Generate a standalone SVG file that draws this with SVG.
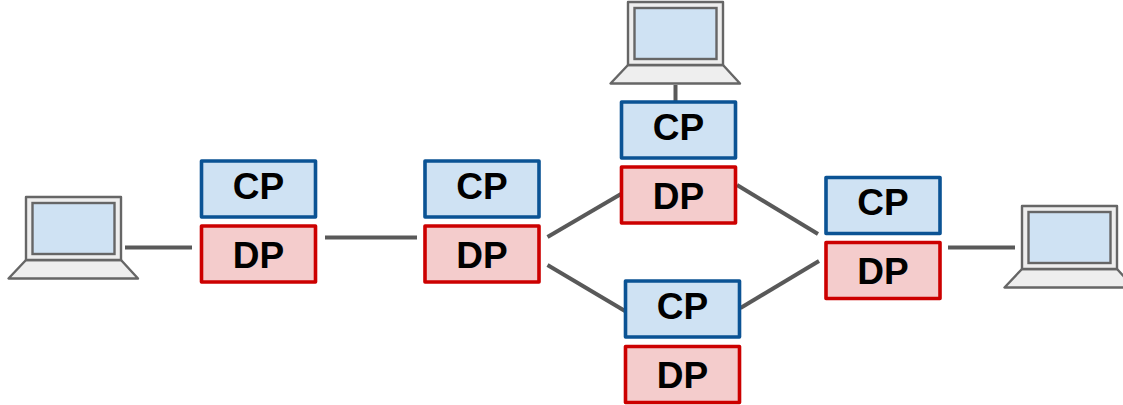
<svg xmlns="http://www.w3.org/2000/svg" width="1123" height="405" viewBox="0 0 1123 405">
<style>
.cp{fill:#cfe2f3;stroke:#0b5394;stroke-width:3.6;stroke-linejoin:round}
.dp{fill:#f4cccc;stroke:#cc0000;stroke-width:3.6;stroke-linejoin:round}
.t{font-family:"Liberation Sans",Arial,sans-serif;font-size:37px;font-weight:700;fill:#000;text-anchor:middle}
.c{stroke:#595959;stroke-width:4;fill:none;stroke-linecap:butt}
.lb{fill:#eeeeee;stroke:#666666;stroke-width:2.4;stroke-linejoin:round}
.ls{fill:#cfe2f3;stroke:#666666;stroke-width:2.4}
</style>
<defs>
<g id="laptop">
<path class="lb" d="M26 260L8.500 278.500H138L121 260Z"/>
<rect class="lb" x="26" y="197" width="95" height="63"/>
<rect class="ls" x="32.500" y="203" width="82" height="51"/>
</g>
<g id="cpbox"><rect class="cp" x="0.500" y="0" width="114" height="56"/><text class="t" x="57.500" y="37.500">CP</text></g>
<g id="dpbox"><rect class="dp" x="0.500" y="0" width="114" height="56"/><text class="t" x="57.500" y="41.500">DP</text></g>
</defs>
<g id="connectors">
<line class="c" x1="125" y1="247.500" x2="192" y2="247.500"/>
<line class="c" x1="325" y1="237.500" x2="417" y2="237.500"/>
<line class="c" x1="547.500" y1="237" x2="621" y2="194"/>
<line class="c" x1="547.500" y1="265" x2="625" y2="311"/>
<line class="c" x1="737" y1="185" x2="818" y2="234"/>
<line class="c" x1="740.500" y1="308" x2="819" y2="261"/>
<line class="c" x1="948" y1="247.500" x2="1015" y2="247.500"/>
<line class="c" x1="675.500" y1="85" x2="675.500" y2="101"/>
</g>
<g id="laptop-left"><use href="#laptop"/></g>
<g id="laptop-top"><use href="#laptop" x="602" y="-195"/></g>
<g id="laptop-right"><use href="#laptop" x="996" y="9"/></g>
<g id="cp1"><use href="#cpbox" x="201" y="161"/></g>
<g id="dp1"><use href="#dpbox" x="201" y="226"/></g>
<g id="cp2"><use href="#cpbox" x="424.500" y="161"/></g>
<g id="dp2"><use href="#dpbox" x="424.500" y="226"/></g>
<g id="cp3"><use href="#cpbox" x="621" y="102"/></g>
<g id="dp3"><use href="#dpbox" x="621" y="167"/></g>
<g id="cp4"><use href="#cpbox" x="625" y="281"/></g>
<g id="dp4"><use href="#dpbox" x="625" y="346.500"/></g>
<g id="cp5"><use href="#cpbox" x="825.500" y="177.500"/></g>
<g id="dp5"><use href="#dpbox" x="825.500" y="242.500"/></g>
</svg>
